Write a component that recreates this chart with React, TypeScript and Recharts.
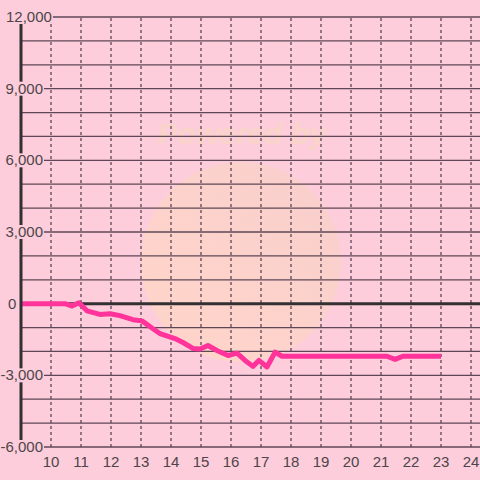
import { LineChart, Line, XAxis, YAxis, CartesianGrid, ReferenceLine } from "recharts";

const hours = [9, 10.47, 10.7, 10.93, 11.2, 11.63, 11.97, 12.3, 12.73, 13.03, 13.4, 13.63, 14.13, 14.4, 14.73, 14.97, 15.23, 15.53, 15.9, 16.2, 16.47, 16.73, 16.93, 17.2, 17.47, 17.7, 21.2, 21.47, 21.73, 23.0];
const balance = [0, 0, -100, 40, -300, -450, -420, -500, -670, -720, -1050, -1250, -1460, -1625, -1875, -1900, -1750, -1960, -2170, -2070, -2375, -2625, -2375, -2650, -2030, -2200, -2200, -2330, -2200, -2200];

const xTicks = [10, 11, 12, 13, 14, 15, 16, 17, 18, 19, 20, 21, 22, 23, 24];
const yTicks = [-6000, -5000, -4000, -3000, -2000, -1000, 0, 1000, 2000, 3000, 4000, 5000, 6000, 7000, 8000, 9000, 10000, 11000, 12000];
const yLabelTicks = [-6000, -3000, 0, 3000, 6000, 9000, 12000];

const data = hours.map((h, i) => ({ h, v: balance[i] }));

const BG = "#fdcddb";
const GRID = "#5e4656";
const TEXT = "#4d4549";

const charW = (c: string) => (c === "," ? 4.2 : c === "-" ? 5 : 8.34);

function YTick(props: any) {
  const { y, payload } = props;
  const val = payload.value;
  if (!yLabelTicks.includes(val)) return null;
  const label = val.toLocaleString("en-US");
  const w = label.split("").reduce((s: number, c: string) => s + charW(c), 0);
  let left = 43 - w;
  if (val === 12000) left = 6;
  if (val === 0) left = 8;
  return (
    <g>
      <rect x={left - 1} y={y - 7} width={w + 2} height={14} fill={BG} />
      <text x={left} y={y} dy={5} fontSize={15} fill={TEXT} fontFamily="Liberation Sans, Arial, sans-serif">
        {label}
      </text>
    </g>
  );
}

function XTick(props: any) {
  const { x, payload } = props;
  return (
    <text x={x} y={462} dy={5} textAnchor="middle" fontSize={15} fill={TEXT} fontFamily="Liberation Sans, Arial, sans-serif">
      {payload.value}
    </text>
  );
}

export default function App() {
  return (
    <div style={{ position: "fixed", left: 0, top: 0, width: 480, height: 480, background: BG, overflow: "hidden" }}>
      <svg width={480} height={480} style={{ position: "absolute", left: 0, top: 0 }}>
        <defs>
          <linearGradient id="wm" x1="0" y1="1" x2="1" y2="0">
            <stop offset="0%" stopColor="#ffd6c8" />
            <stop offset="100%" stopColor="#f9cfcb" />
          </linearGradient>
        </defs>
        <circle cx={241} cy={262} r={100} fill="url(#wm)" opacity={0.9} />
        <text x={242} y={144} textAnchor="middle" fontSize={30} fontWeight="bold" fontStyle="italic" fill="#fad4c9" fontFamily="Liberation Sans, Arial, sans-serif">
          Powered by
        </text>
      </svg>
      <div style={{ position: "absolute", left: 0, top: 0 }}>
        <LineChart width={480} height={480} data={data} margin={{ top: 17, right: 0, bottom: 3, left: 0 }}>
          <CartesianGrid vertical={false} stroke={GRID} strokeWidth={1.3} />
          {xTicks.map((t) => (
            <ReferenceLine key={t} x={t} stroke={GRID} strokeWidth={1.3} strokeDasharray="3 3" />
          ))}
          <ReferenceLine y={0} stroke="#333033" strokeWidth={3} />
          <XAxis
            dataKey="h"
            type="number"
            domain={[9, 24.3]}
            ticks={xTicks}
            allowDataOverflow
            axisLine={false}
            tickLine={false}
            height={30}
            tick={<XTick />}
            interval={0}
          />
          <YAxis
            type="number"
            domain={[-6000, 12000]}
            ticks={yTicks}
            interval={0}
            width={21}
            axisLine={{ stroke: "#333033", strokeWidth: 3 }}
            tickLine={false}
            tick={<YTick />}
          />
          <Line
            type="linear"
            dataKey="v"
            stroke="#ff3399"
            strokeWidth={5}
            strokeLinejoin="round"
            dot={false}
            isAnimationActive={false}
          />
        </LineChart>
      </div>
    </div>
  );
}
